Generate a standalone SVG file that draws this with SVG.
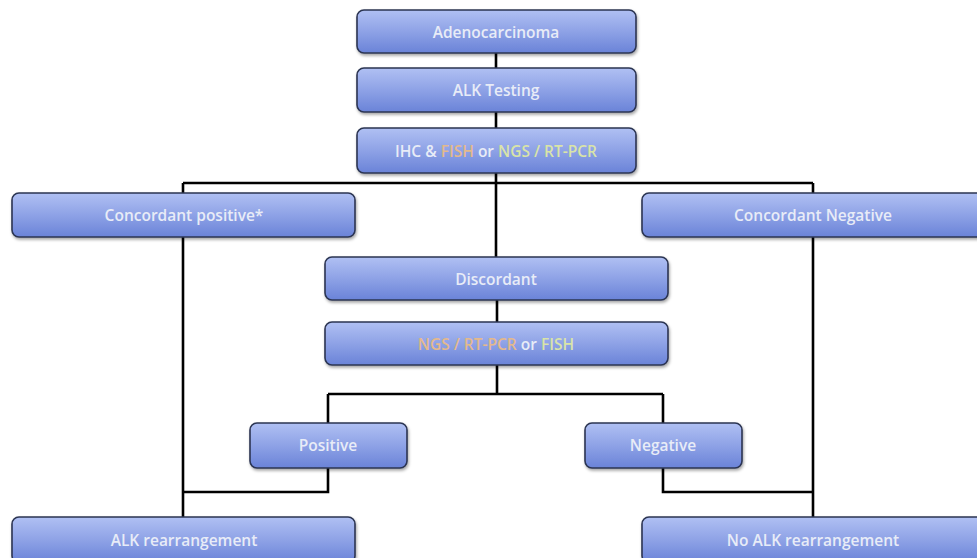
<svg xmlns="http://www.w3.org/2000/svg" width="977" height="558" viewBox="0 0 977 558">
<defs>
<linearGradient id="g" x1="0" y1="0" x2="0" y2="1">
<stop offset="0" stop-color="#b0c0f3"/>
<stop offset="0.5" stop-color="#8ea2e6"/>
<stop offset="1" stop-color="#6a83d8"/>
</linearGradient>
<filter id="sh" x="-5%" y="-20%" width="110%" height="150%">
<feDropShadow dx="1" dy="2" stdDeviation="1.5" flood-color="#000" flood-opacity="0.35"/>
</filter>
<style>
.box{fill:url(#g);stroke:#2c3452;stroke-width:1.6;filter:url(#sh)}
.t{font-family:"Open Sans","Liberation Sans",Arial,sans-serif;font-size:15.5px;font-weight:600;fill:#e8ecf7;text-anchor:middle}
.or{fill:#e4b98c}
.gr{fill:#d9e4a8}
.c{fill:none;stroke:#000;stroke-width:2.6}
</style>
</defs>
<rect width="977" height="558" fill="#fff"/>
<g id="connectors">
<path class="c" d="M496 53V68M496 112V128M496 173V257M183 183H813M183 183V517M813 183V517M497 300V322M497 365V394M328 394H663M328 394V423M663 394V423M328 468V492H183M663 468V492H813"/>
</g>
<g id="n1"><rect class="box" x="357" y="10" width="279" height="43" rx="7"/><text class="t" x="496" y="38">Adenocarcinoma</text></g>
<g id="n2"><rect class="box" x="357" y="68" width="279" height="44" rx="7"/><text class="t" x="496" y="96">ALK Testing</text></g>
<g id="n3"><rect class="box" x="357" y="128" width="279" height="45" rx="7"/><text class="t" x="496" y="157">IHC &amp; <tspan class="or">FISH</tspan> or <tspan class="gr">NGS / RT-PCR</tspan></text></g>
<g id="n4"><rect class="box" x="12" y="193" width="343" height="44" rx="7"/><text class="t" x="184" y="221">Concordant positive*</text></g>
<g id="n5"><rect class="box" x="642" y="193" width="345" height="44" rx="7"/><text class="t" x="813" y="221">Concordant Negative</text></g>
<g id="n6"><rect class="box" x="325" y="257" width="343" height="43" rx="7"/><text class="t" x="496" y="285">Discordant</text></g>
<g id="n7"><rect class="box" x="325" y="322" width="343" height="43" rx="7"/><text class="t" x="496" y="350"><tspan class="or">NGS / RT-PCR</tspan> or <tspan class="gr">FISH</tspan></text></g>
<g id="n8"><rect class="box" x="250" y="423" width="157" height="45" rx="7"/><text class="t" x="328" y="451">Positive</text></g>
<g id="n9"><rect class="box" x="585" y="423" width="157" height="45" rx="7"/><text class="t" x="663" y="451">Negative</text></g>
<g id="n10"><rect class="box" x="12" y="517" width="343" height="46" rx="7"/><text class="t" x="184" y="546">ALK rearrangement</text></g>
<g id="n11"><rect class="box" x="642" y="517" width="345" height="46" rx="7"/><text class="t" x="813" y="546">No ALK rearrangement</text></g>
</svg>
